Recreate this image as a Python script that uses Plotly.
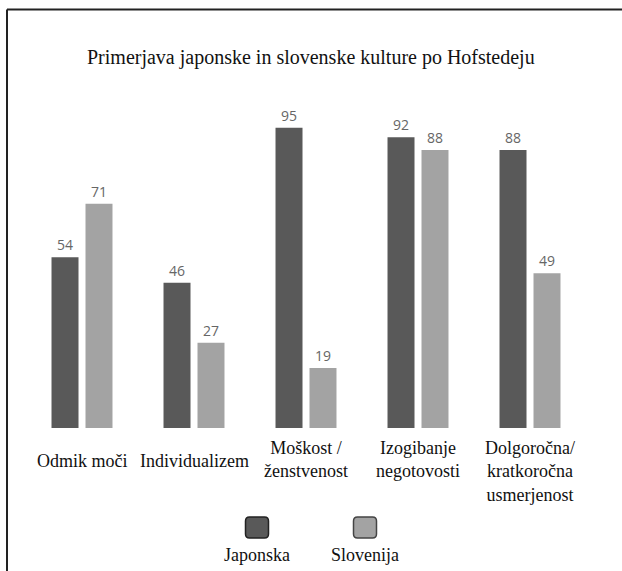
import plotly.graph_objects as go

# Hofstede dimension scores
categories = [
    "Odmik moči",
    "Individualizem",
    "Moškost /<br>ženstvenost",
    "Izogibanje<br>negotovosti",
    "Dolgoročna/<br>kratkoročna<br>usmerjenost",
]
series_names = ["Japonska", "Slovenija"]
japonska = [54, 46, 95, 92, 88]
slovenija = [71, 27, 19, 88, 49]
title_text = "Primerjava japonske in slovenske kulture po Hofstedeju"

DARK = "#595959"
LIGHT = "#a3a3a3"
SERIF = "Liberation Serif"
SANS = "Open Sans"

W, H = 622, 571
ML, MR, MT, MB = 26, 36, 112, 143
PW, PH = W - ML - MR, H - MT - MB


def px_x(px):
    return (px - ML) / PW


def px_y(py):
    return (H - MB - py) / PH


fig = go.Figure()
for name, vals, col in [(series_names[0], japonska, DARK), (series_names[1], slovenija, LIGHT)]:
    fig.add_trace(go.Bar(
        x=categories, y=vals, name=name,
        marker=dict(color=col, line=dict(width=0)),
        text=[str(v) for v in vals], textposition="outside",
        textfont=dict(family=SANS, size=14, color="#666666"),
        cliponaxis=False, showlegend=False,
    ))

annotations = []
# Category labels below the bars
for cat in categories:
    n_lines = cat.count("<br>") + 1
    top_px = 449 if n_lines == 1 else 436
    annotations.append(dict(
        x=cat, xref="x", y=px_y(top_px), yref="paper",
        text=cat, showarrow=False, yanchor="top", xanchor="center",
        align="center", font=dict(family=SERIF, size=18, color="#111111"),
    ))

# Title
annotations.append(dict(
    x=px_x(311), xref="paper", y=px_y(58), yref="paper",
    text=title_text, showarrow=False, xanchor="center", yanchor="middle",
    font=dict(family=SERIF, size=20, color="#111111"),
))

shapes = []
# Legend: rounded swatches with names underneath
legend_centers = [257, 365]
for name, fill, edge, cx in zip(series_names, [DARK, LIGHT], ["#222222", "#444444"], legend_centers):
    x0, x1 = px_x(cx - 11.5), px_x(cx + 11.5)
    y0, y1 = px_y(538), px_y(517)
    rx, ry = 4 / PW, 4 / PH
    path = (
        f"M {x0 + rx},{y0} L {x1 - rx},{y0} Q {x1},{y0} {x1},{y0 + ry} "
        f"L {x1},{y1 - ry} Q {x1},{y1} {x1 - rx},{y1} "
        f"L {x0 + rx},{y1} Q {x0},{y1} {x0},{y1 - ry} "
        f"L {x0},{y0 + ry} Q {x0},{y0} {x0 + rx},{y0} Z"
    )
    shapes.append(dict(type="path", xref="paper", yref="paper", path=path,
                       fillcolor=fill, line=dict(color=edge, width=1.5)))
    annotations.append(dict(
        x=px_x(cx), xref="paper", y=px_y(555), yref="paper",
        text=name, showarrow=False, xanchor="center", yanchor="middle",
        font=dict(family=SERIF, size=18, color="#111111"),
    ))

# Outer frame (left and top edges)
shapes.append(dict(type="line", xref="paper", yref="paper",
                   x0=px_x(7), x1=px_x(7), y0=px_y(9.5), y1=px_y(H + 5),
                   line=dict(color="#222222", width=2)))
shapes.append(dict(type="line", xref="paper", yref="paper",
                   x0=px_x(7), x1=px_x(W + 5), y0=px_y(9.5), y1=px_y(9.5),
                   line=dict(color="#222222", width=2)))

fig.update_layout(
    width=W, height=H,
    margin=dict(l=ML, r=MR, t=MT, b=MB),
    paper_bgcolor="white", plot_bgcolor="white",
    barmode="group", bargap=0.393, bargroupgap=0.206,
    xaxis=dict(showticklabels=False, showgrid=False, zeroline=False,
               showline=False, ticks="", range=[-0.5, 4.5]),
    yaxis=dict(visible=False, range=[0, 100]),
    annotations=annotations, shapes=shapes,
    showlegend=False,
)

fig.write_html("out.html")
